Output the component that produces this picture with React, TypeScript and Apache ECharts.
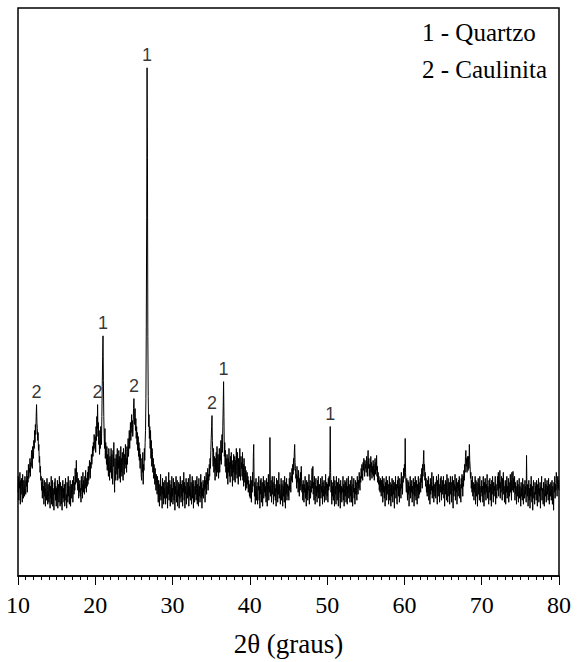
import React, { useEffect, useRef } from "react";
import * as echarts from "echarts";

// Diffractogram: intensity (arbitrary units) sampled every 0.05° from 10° to 80°
const START_ANGLE = 10;
const STEP_ANGLE = 0.05;
const intensity = [
  84,100,76,94,88,104,72,96,82,98,90,74,102,86,78,96,92,80,100,88,
  82,96,90,106,84,100,94,112,98,108,104,118,100,114,110,126,116,108,130,122,
  118,136,128,146,134,152,142,160,172,154,148,136,144,126,132,114,120,104,110,96,
  100,86,94,78,98,84,90,72,96,80,88,70,94,82,76,98,86,72,92,80,
  74,94,84,68,90,78,100,72,86,96,70,88,80,66,94,82,98,76,90,70,
  88,76,96,68,84,92,74,100,80,70,94,86,72,90,66,84,96,78,88,74,
  92,70,86,98,76,82,68,94,88,74,100,80,90,72,84,96,70,86,92,78,
  84,96,74,90,100,82,94,86,108,92,100,116,94,104,90,86,98,78,92,84,
  96,80,88,74,100,86,92,78,104,84,96,90,82,100,88,106,94,84,98,90,
  104,92,110,96,100,116,106,98,114,108,122,112,118,130,120,134,126,142,136,128,
  140,124,150,136,160,148,172,140,154,132,146,122,136,128,150,138,132,160,190,220,
  241,196,160,140,128,148,118,134,124,112,130,106,122,116,100,128,110,96,120,104,
  114,128,98,122,108,92,126,110,134,100,84,118,106,96,122,110,102,128,96,116,
  108,126,98,120,112,94,130,104,118,100,124,110,96,128,114,102,122,108,132,112,
  118,104,130,112,124,138,120,132,146,128,140,154,136,148,162,144,156,140,152,168,
  178,160,152,168,146,158,138,150,132,144,126,140,120,134,116,128,108,122,112,100,
  96,118,104,124,92,112,106,128,116,134,146,178,250,360,510,420,240,180,150,162,
  138,150,128,146,118,136,110,128,122,104,118,98,112,106,92,108,96,86,102,90,
  82,100,88,74,96,84,70,92,80,102,76,90,86,68,98,82,94,72,88,78,
  96,84,72,100,86,78,94,68,90,82,104,76,88,96,70,86,92,74,100,80,
  88,72,98,84,76,94,66,90,82,100,74,88,96,70,86,80,94,68,92,78,
  100,86,74,92,80,96,70,88,84,104,76,94,68,90,82,98,72,86,94,78,
  84,98,70,90,80,102,76,88,94,72,86,100,78,92,68,96,84,74,90,82,
  96,76,88,100,72,92,84,70,98,80,90,74,86,102,78,94,68,88,80,96,
  78,92,86,100,74,96,88,104,82,98,92,108,86,102,96,112,100,118,108,126,
  138,150,161,136,124,110,128,104,120,112,96,118,106,124,100,130,114,104,122,98,
  110,128,104,120,116,136,112,128,142,124,150,170,195,160,120,134,110,126,104,118,
  98,122,110,92,118,104,128,100,114,94,120,108,124,100,116,90,112,104,122,96,
  106,120,94,116,102,128,110,98,124,106,92,118,112,100,128,104,96,120,108,114,
  100,124,96,112,90,118,104,94,110,86,106,98,88,104,92,100,84,96,90,80,
  92,78,100,86,74,96,84,104,90,120,132,96,80,94,72,88,98,76,90,84,
  72,94,86,100,76,90,68,96,82,98,74,88,94,70,86,100,78,92,84,96,
  80,90,74,98,84,70,94,88,102,76,90,84,139,92,80,96,74,88,100,82,
  94,72,86,100,80,92,76,88,70,98,84,96,74,90,82,104,78,92,86,72,
  88,98,76,92,84,70,96,80,90,74,100,86,68,94,82,98,76,88,92,80,
  90,76,98,86,104,92,84,100,96,108,94,112,102,118,106,124,132,114,108,98,
  102,88,110,94,100,84,106,92,80,98,90,104,86,110,96,84,92,76,96,86,
  74,92,84,100,78,88,70,96,82,94,76,90,86,102,72,88,96,78,90,84,
  96,108,88,110,82,94,76,100,86,72,92,98,80,90,74,96,84,100,78,88,
  92,70,86,98,78,90,84,100,72,94,80,88,96,74,90,82,102,76,88,94,
  80,92,74,98,86,100,90,106,150,104,84,96,72,90,80,94,76,100,86,70,
  96,82,90,72,100,86,76,94,88,70,98,84,92,78,68,96,82,90,74,88,
  84,100,76,92,70,88,96,80,94,74,86,98,72,90,84,100,78,92,86,74,
  96,80,90,74,100,86,70,92,84,98,78,88,72,96,82,94,86,76,100,90,
  82,96,88,104,92,86,100,94,108,98,112,104,96,114,106,118,110,100,116,108,
  112,104,120,110,100,116,126,108,118,100,112,96,108,120,104,114,98,110,102,116,
  100,112,96,108,118,102,114,106,121,100,110,94,104,92,100,86,96,84,98,88,
  80,96,86,100,74,92,84,98,78,90,70,94,86,100,76,88,96,82,92,72,
  88,100,76,94,84,70,92,80,98,86,74,96,82,90,68,94,86,100,78,92,
  84,72,96,88,100,80,90,74,98,86,92,78,104,88,96,82,100,94,108,98,
  112,100,138,104,92,84,98,88,76,96,82,94,70,90,86,100,78,92,84,96,
  74,90,82,98,86,70,94,80,100,88,76,96,84,72,92,86,100,78,94,82,
  90,98,84,102,94,108,88,112,100,116,126,106,112,96,104,90,98,84,92,80,
  96,84,100,76,92,88,72,98,82,94,86,104,78,90,84,100,74,92,88,80,
  94,78,90,100,84,72,96,86,102,80,92,74,88,98,84,100,76,90,82,96,
  86,100,78,92,70,88,96,82,94,76,102,86,74,98,90,80,94,72,88,100,
  82,94,74,90,100,84,68,96,80,92,86,102,76,90,84,98,72,88,94,80,
  96,86,100,78,92,84,74,98,88,102,94,80,100,90,106,96,112,104,120,126,
  110,118,104,120,112,106,120,108,132,116,110,98,104,88,96,84,100,80,94,86,
  76,92,84,100,72,96,86,80,94,70,88,98,82,92,76,100,86,74,90,84,
  96,80,90,74,100,86,70,94,82,98,88,76,92,84,102,78,90,86,72,96,
  84,98,76,92,86,70,96,82,100,88,74,94,80,90,86,100,72,92,84,78,
  90,100,86,104,80,96,88,106,78,94,84,100,92,76,98,86,104,82,90,74,
  88,96,72,92,84,100,78,90,86,98,74,94,80,88,102,84,96,76,104,86,
  92,105,84,98,88,100,76,94,82,90,72,88,96,80,92,74,86,98,78,90,
  84,70,94,80,88,76,98,84,72,92,86,78,96,82,90,74,121,88,80,92,
  70,86,96,76,88,68,92,80,100,84,74,90,66,88,96,78,84,72,94,82,
  90,76,96,84,70,92,82,98,74,88,80,94,68,90,86,100,76,88,82,72,
  94,84,70,88,98,80,92,74,86,96,82,90,76,98,84,72,92,86,80,94,
  76,88,96,72,90,82,66,94,84,100,78,92,86,104,98,80,92,100,88,96,
  86,
];

// Identified peaks (2θ, intensity, phase number)
const peakAngles = [12.4, 20.3, 21.0, 25.0, 26.7, 35.1, 36.6, 50.4];
const peakIntensities = [172, 172, 241, 178, 510, 161, 195, 150];
const peakPhases = ["2", "2", "1", "2", "1", "2", "1", "1"];

const legendLines = ["1 - Quartzo", "2 - Caulinita"];

const X_MIN = 10;
const X_MAX = 80;
const X_INTERVAL = 10;
const Y_MIN = 0;
const Y_MAX = 570;
const X_TITLE = "2θ (graus)";

export default function App() {
  const ref = useRef<HTMLDivElement>(null);

  useEffect(() => {
    document.body.style.margin = "0";
    if (!ref.current) return;
    const chart = echarts.init(ref.current, null, { renderer: "svg" });
    const lineData = intensity.map((v, i) => [
      +(START_ANGLE + i * STEP_ANGLE).toFixed(2),
      v,
    ]);
    const labelData = peakAngles.map((a, i) => ({
      value: [a, peakIntensities[i]],
      name: peakPhases[i],
    }));
    const serif = "Liberation Serif";
    const sans = "Liberation Sans";
    chart.setOption({
      animation: false,
      backgroundColor: "#ffffff",
      grid: {
        left: 18,
        right: 18,
        top: 8,
        bottom: 85,
        show: true,
        borderColor: "#000",
        borderWidth: 1.5,
        backgroundColor: "transparent",
      },
      xAxis: {
        type: "value",
        min: X_MIN,
        max: X_MAX,
        interval: X_INTERVAL,
        name: X_TITLE,
        nameLocation: "middle",
        nameGap: 54,
        nameTextStyle: { fontFamily: serif, fontSize: 27, color: "#000" },
        axisLine: { show: true, lineStyle: { color: "#000", width: 1.5 } },
        axisTick: { show: true, inside: false, length: 9, lineStyle: { color: "#000", width: 1 } },
        minorTick: { show: true, splitNumber: 10, length: 4, lineStyle: { color: "#000", width: 1 } },
        axisLabel: { fontFamily: serif, fontSize: 24, color: "#000", margin: 17 },
        splitLine: { show: false },
        minorSplitLine: { show: false },
      },
      yAxis: {
        type: "value",
        min: Y_MIN,
        max: Y_MAX,
        axisLine: { show: false },
        axisTick: { show: false },
        axisLabel: { show: false },
        splitLine: { show: false },
      },
      series: [
        {
          type: "line",
          data: lineData,
          showSymbol: false,
          symbol: "none",
          lineStyle: { color: "#000", width: 1 },
          z: 2,
        },
        {
          type: "scatter",
          data: labelData,
          symbolSize: 0,
          z: 3,
          label: {
            show: true,
            position: "top",
            distance: 4,
            formatter: (p: any) => p.name,
            fontFamily: sans,
            fontSize: 18,
            color: "#000",
          },
        },
      ],
      graphic: legendLines.map((t, i) => ({
        type: "text",
        left: 422,
        top: 20 + i * 37,
        style: {
          text: t,
          fontFamily: serif,
          fontSize: 25,
          fill: "#000",
        },
      })),
    });
    return () => chart.dispose();
  }, []);

  return <div ref={ref} style={{ width: 577, height: 662 }} />;
}
